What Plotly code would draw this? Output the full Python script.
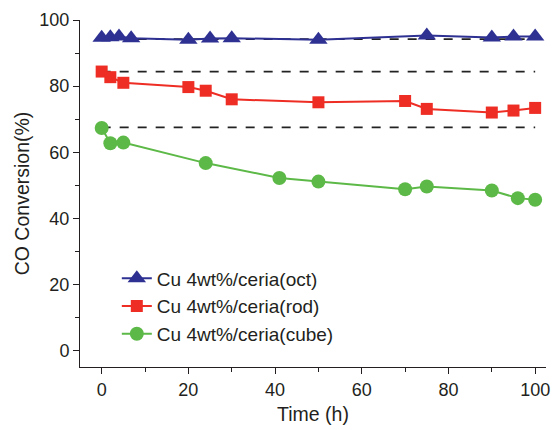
import plotly.graph_objects as go

# Data
oct_time = [0, 2, 4, 6.8, 20, 25, 30, 50, 75, 90, 95, 100]
oct_conv = [94.6, 94.8, 95.0, 94.5, 94.0, 94.4, 94.5, 94.0, 95.3, 94.7, 95.0, 95.0]

rod_time = [0, 2, 5, 20, 24, 30, 50, 70, 75, 90, 95, 100]
rod_conv = [84.4, 82.7, 81.0, 79.7, 78.6, 76.0, 75.1, 75.5, 73.1, 72.0, 72.6, 73.4]

cube_time = [0, 2, 5, 24, 41, 50, 70, 75, 90, 96, 100]
cube_conv = [67.3, 62.7, 62.9, 56.7, 52.2, 51.1, 48.8, 49.6, 48.4, 46.1, 45.6]

ref_time = [0, 100]
ref_levels = [94.2, 84.4, 67.5]

names = ["Cu 4wt%/ceria(oct)", "Cu 4wt%/ceria(rod)", "Cu 4wt%/ceria(cube)"]
colors = ["#2E3192", "#EE2D24", "#5DB947"]

fig = go.Figure()

for lvl in ref_levels:
    fig.add_trace(go.Scatter(x=ref_time, y=[lvl, lvl], mode="lines",
                             line=dict(color="#222222", width=1.8, dash="dash"),
                             showlegend=False, hoverinfo="skip"))

fig.add_trace(go.Scatter(x=oct_time, y=oct_conv, mode="lines+markers", name=names[0],
                         line=dict(color=colors[0], width=2),
                         marker=dict(symbol="triangle-up", size=16, color=colors[0])))
fig.add_trace(go.Scatter(x=rod_time, y=rod_conv, mode="lines+markers", name=names[1],
                         line=dict(color=colors[1], width=2),
                         marker=dict(symbol="square", size=12, color=colors[1])))
fig.add_trace(go.Scatter(x=cube_time, y=cube_conv, mode="lines+markers", name=names[2],
                         line=dict(color=colors[2], width=2),
                         marker=dict(symbol="circle", size=14, color=colors[2])))

font = dict(family="Liberation Sans, Arial, sans-serif", size=18, color="#231F20")

axis_common = dict(
    tickmode="array", tickvals=[0, 20, 40, 60, 80, 100],
    ticks="outside", ticklen=6, tickwidth=1, tickcolor="#231F20",
    showline=True, linecolor="#231F20", linewidth=1, showgrid=False,
    zeroline=False, tickfont=dict(size=18), ticklabeloverflow="allow",
    minor=dict(tickvals=[10, 30, 50, 70, 90], ticks="outside", ticklen=4,
               tickcolor="#231F20"),
)

fig.update_layout(
    width=553, height=430,
    margin=dict(l=80, r=3, t=20, b=63),
    paper_bgcolor="white", plot_bgcolor="white",
    font=font,
    legend=dict(x=0.079, y=0.31, xanchor="left", yanchor="top",
                bgcolor="rgba(0,0,0,0)", font=dict(size=19),
                tracegroupgap=0),
    xaxis=dict(range=[-5, 102.5], title=dict(text="Time (h)", standoff=8, font=dict(size=19.5)),
               **axis_common),
    yaxis=dict(range=[-5, 100], title=dict(text="CO Conversion(%)", standoff=4, font=dict(size=19.5)),
               **axis_common),
)

fig.write_html("out.html")
